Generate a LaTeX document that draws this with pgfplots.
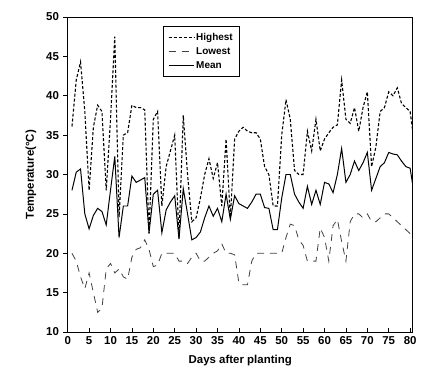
\documentclass[border=0pt]{standalone}
\usepackage{pgfplots}
\pgfplotsset{compat=1.18}
\usepackage{fontspec}
\setmainfont{Liberation Sans}
\begin{document}
\begin{tikzpicture}
\begin{axis}[
  name=ax, at={(0,0)}, anchor=south west,
  scale only axis, width=345bp, height=315bp,
  xmin=0, xmax=80.6, ymin=10, ymax=50,
  xtick={0,5,...,80}, ytick={10,15,...,50},
  tick label style={font=\fontsize{11.5}{12}\selectfont\bfseries},
  /pgf/number format/assume math mode=true,
  x tick style={black, line width=0.6pt}, y tick style={black, line width=0.6pt},
  xtick align=inside, ytick align=outside,
  xtick pos=bottom, ytick pos=left,
  x tick label style={yshift=-1pt},
  y tick label style={xshift=-1pt},
  axis line style={line width=0.7pt},
  xlabel={\bfseries Days after planting},
  ylabel={\bfseries Temperature(\textdegree C)},
  label style={font=\fontsize{11.5}{13}\selectfont\bfseries},
  xlabel style={yshift=-4pt},
  ylabel style={yshift=3pt},
  legend style={at={(0.276,0.971)}, anchor=north west, draw=black, line width=0.6pt,
    font=\fontsize{10}{12}\selectfont\bfseries, row sep=1.5pt, inner xsep=5pt, inner ysep=5pt,
    legend cell align=left},
  legend image code/.code={\draw[#1] (0cm,0cm) -- (0.88cm,0cm);},
]
\pgfplotsset{every axis/.append style={}}
\addplot[black, line width=1.1pt, dash pattern=on 3pt off 2pt] coordinates {
(1,36.1)(2,42)(3,44.3)(4,38)(5,28)(6,36)(7,38.8)(8,38)(9,28)(10,37)
(11,47.5)(12,24.6)(13,35)(14,35.3)(15,38.8)(16,38.5)(17,38.5)(18,38.2)(19,22.5)(20,37)
(21,38)(22,26)(23,31)(24,33)(25,35)(26,22)(27,37.5)(28,30)(29,24)(30,24.5)
(31,27)(32,30)(33,32)(34,29.5)(35,31.5)(36,26)(37,34.5)(38,24.5)(39,34.5)(40,35.5)
(41,36)(42,35.5)(43,35.3)(44,35.3)(45,34.5)(46,31)(47,30)(48,26)(49,26)(50,35)
(51,39.5)(52,37)(53,30.5)(54,30)(55,30)(56,35.5)(57,33)(58,37)(59,33)(60,34.5)
(61,35.3)(62,36)(63,36.3)(64,42)(65,37)(66,36.5)(67,38.5)(68,35.5)(69,38.5)(70,40.5)
(71,31)(72,33.5)(73,38)(74,38.5)(75,40.5)(76,40)(77,41)(78,39)(79,38.5)(80,38)(80.6,35.5)
};
\addlegendentry{Highest}
\addplot[black!75, line width=0.8pt, dash pattern=on 7pt off 6pt] coordinates {
(1,20)(2,19)(3,17)(4,15.5)(5,17.5)(6,15)(7,12.5)(8,13)(9,18)(10,18.7)
(11,17.5)(12,18)(13,17)(14,16.7)(15,19.5)(16,20.5)(17,20.7)(18,21.7)(19,20.5)(20,18.3)
(21,18.5)(22,20)(23,20)(24,20)(25,20)(26,19)(27,19)(28,18.7)(29,19.5)(30,20)
(31,19)(32,19)(33,19.5)(34,20)(35,20.3)(36,21.2)(37,20)(38,20)(39,19.8)(40,16.2)
(41,16)(42,16)(43,19)(44,20)(45,20)(46,20)(47,20)(48,20)(49,20)(50,20)
(51,22)(52,23.7)(53,23.5)(54,21.7)(55,21)(56,19)(57,19)(58,19)(59,23.2)(60,22)
(61,19)(62,23.5)(63,24.3)(64,21.5)(65,19)(66,24)(67,25)(68,25)(69,24.5)(70,25)
(71,24)(72,24)(73,24.5)(74,25)(75,25)(76,24.5)(77,24)(78,23.5)(79,23)(80,22.5)(80.6,21.7)
};
\addlegendentry{Lowest}
\addplot[black, line width=1.0pt] coordinates {
(1,28)(2,30.3)(3,30.7)(4,25)(5,23.1)(6,24.8)(7,25.7)(8,25.3)(9,23.6)(10,28)
(11,32.3)(12,22)(13,26)(14,26)(15,29.8)(16,29)(17,29.3)(18,29.6)(19,22.6)(20,27.5)
(21,28)(22,22.6)(23,25.5)(24,26.5)(25,27.3)(26,21.8)(27,28.2)(28,25)(29,21.7)(30,22)
(31,22.7)(32,24.5)(33,26)(34,24.7)(35,25.7)(36,24)(37,27.5)(38,24.3)(39,27.3)(40,26.3)
(41,26)(42,25.7)(43,26.5)(44,27.5)(45,27.5)(46,25.8)(47,25.7)(48,23)(49,23)(50,27)
(51,30)(52,30)(53,27.5)(54,26.5)(55,25.7)(56,28.5)(57,26.2)(58,28)(59,26.2)(60,29)
(61,28.8)(62,27.7)(63,30)(64,33.3)(65,29)(66,30)(67,31.7)(68,30.5)(69,31.5)(70,32.8)
(71,28)(72,29.5)(73,31)(74,31.5)(75,32.8)(76,32.6)(77,32.5)(78,31.7)(79,31)(80,30.8)(80.6,28.7)
};
\addlegendentry{Mean}
\end{axis}
\pgfresetboundingbox
\path (-67.7bp,-38bp) rectangle (360.3bp,332bp);
\end{tikzpicture}
\end{document}
